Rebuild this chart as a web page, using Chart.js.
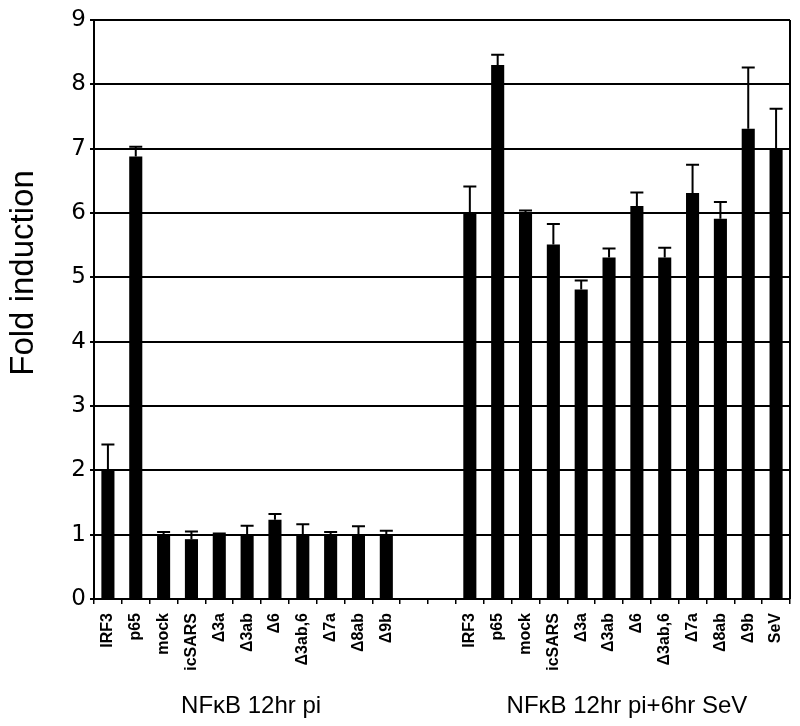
<!DOCTYPE html>
<html>
<head>
<meta charset="utf-8">
<script src="https://cdn.jsdelivr.net/npm/chart.js@4"></script>
<style>
  html, body { margin: 0; padding: 0; background: #fff; }
  canvas { display: block; }
</style>
</head>
<body>
<canvas id="c" width="800" height="726"></canvas>
<script>
// ---- data ----
const categories = [
  "IRF3", "p65", "mock", "icSARS", "\u03943a", "\u03943ab", "\u03946", "\u03943ab,6", "\u03947a", "\u03948ab", "\u03949b",
  "", " ",
  "IRF3", "p65", "mock", "icSARS", "\u03943a", "\u03943ab", "\u03946", "\u03943ab,6", "\u03947a", "\u03948ab", "\u03949b", "SeV"
];
const foldValues = [
  2.0, 6.88, 1.0, 0.93, 0.98, 1.0, 1.23, 1.0, 1.0, 1.0, 1.0,
  null, null,
  6.0, 8.30, 6.0, 5.51, 4.81, 5.31, 6.11, 5.31, 6.31, 5.91, 7.31, 7.01
];
const upperErrors = [
  0.40, 0.15, 0.04, 0.12, 0.04, 0.14, 0.09, 0.16, 0.04, 0.13, 0.06,
  null, null,
  0.41, 0.16, 0.04, 0.32, 0.14, 0.14, 0.21, 0.15, 0.44, 0.26, 0.95, 0.61
];
const yTicks = [0, 1, 2, 3, 4, 5, 6, 7, 8, 9];
const groupNames = ["NF\u03baB 12hr pi", "NF\u03baB 12hr pi+6hr SeV"];
const groupRanges = [[0, 10], [13, 24]];
const yTitle = "Fold induction";

// ---- plugins ----
const errorBars = {
  id: 'errorBars',
  afterDatasetsDraw(chart) {
    const ctx = chart.ctx;
    const meta = chart.getDatasetMeta(0);
    const y = chart.scales.y;
    ctx.save();
    ctx.strokeStyle = '#000';
    ctx.lineWidth = 2;
    meta.data.forEach((bar, i) => {
      const v = foldValues[i], e = upperErrors[i];
      if (v == null || e == null) return;
      const yTop = y.getPixelForValue(v + e);
      const yBar = y.getPixelForValue(v);
      const cap = 6.5;
      ctx.beginPath();
      ctx.moveTo(bar.x, yBar);
      ctx.lineTo(bar.x, yTop);
      ctx.moveTo(bar.x - cap, yTop);
      ctx.lineTo(bar.x + cap, yTop);
      ctx.stroke();
    });
    ctx.restore();
  }
};

const decorations = {
  id: 'decorations',
  afterDraw(chart) {
    const ctx = chart.ctx;
    const a = chart.chartArea;
    const x = chart.scales.x;
    ctx.save();
    // right frame line
    ctx.strokeStyle = '#000';
    ctx.lineWidth = 2;
    ctx.beginPath();
    ctx.moveTo(a.right, a.top);
    ctx.lineTo(a.right, a.bottom);
    ctx.stroke();
    // group labels
    ctx.fillStyle = '#000';
    ctx.font = '24px "Liberation Sans", Arial, sans-serif';
    ctx.textAlign = 'center';
    ctx.textBaseline = 'alphabetic';
    groupNames.forEach((name, g) => {
      const [s, e] = groupRanges[g];
      const cx = (x.getPixelForValue(s) + x.getPixelForValue(e)) / 2 + 4;
      ctx.fillText(name, cx, 713);
    });
    // y title
    ctx.font = '33px "Liberation Sans", Arial, sans-serif';
    ctx.translate(33, 273);
    ctx.rotate(-Math.PI / 2);
    ctx.textAlign = 'center';
    ctx.fillText(yTitle, 0, 0);
    ctx.restore();
  }
};

new Chart(document.getElementById('c'), {
  type: 'bar',
  data: {
    labels: categories,
    datasets: [{
      data: foldValues,
      backgroundColor: '#000',
      borderWidth: 0,
      barPercentage: 0.47,
      categoryPercentage: 1.0
    }]
  },
  options: {
    responsive: false,
    animation: false,
    layout: { padding: { top: 20, right: 10, left: 0, bottom: 0 } },
    plugins: { legend: { display: false }, tooltip: { enabled: false } },
    scales: {
      x: {
        afterFit(scale) { scale.height = 127; scale.paddingLeft = 0; scale.paddingRight = 0; },
        grid: {
          display: true, drawOnChartArea: false, drawTicks: true,
          tickLength: 5, color: '#000', lineWidth: 1.5, offset: true
        },
        border: { display: true, color: '#000', width: 2 },
        ticks: {
          autoSkip: false, maxRotation: 90, minRotation: 90, padding: 9,
          color: '#000',
          font: { family: '"Liberation Sans", Arial, sans-serif', size: 16, weight: 'bold' }
        }
      },
      y: {
        min: 0, max: 9,
        afterFit(scale) { scale.width = 94; scale.paddingTop = 0; scale.paddingBottom = 0; },
        afterBuildTicks(scale) { scale.ticks = yTicks.map(v => ({ value: v })); },
        grid: { color: '#000', lineWidth: 2, tickLength: 4, drawTicks: true },
        border: { display: true, color: '#000', width: 2 },
        ticks: {
          stepSize: 1, padding: 4, color: '#000',
          font: { family: '"DejaVu Sans", Verdana, sans-serif', size: 23 }
        }
      }
    }
  },
  plugins: [errorBars, decorations]
});
</script>
</body>
</html>
